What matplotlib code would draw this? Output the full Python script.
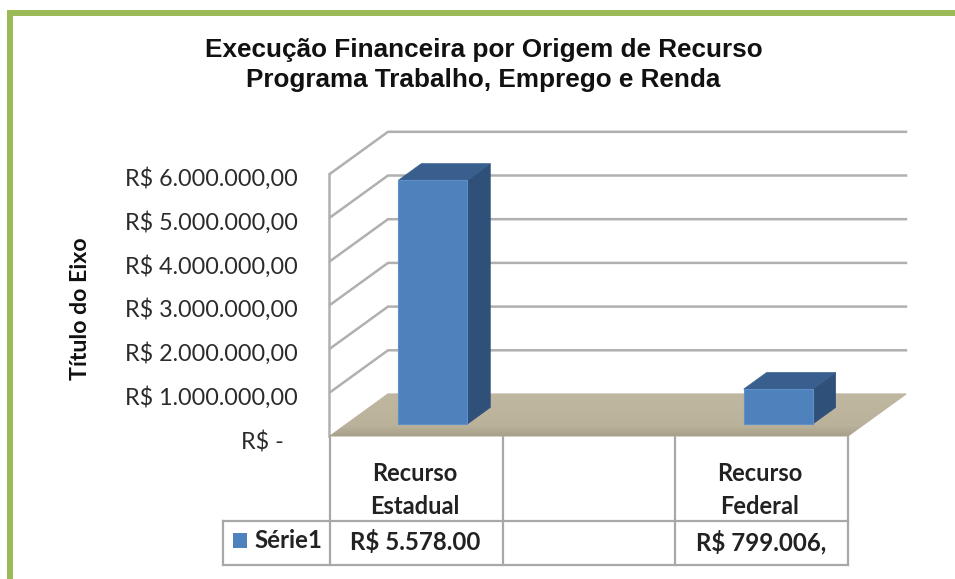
import matplotlib
matplotlib.use("Agg")
import matplotlib.pyplot as plt
from matplotlib.colors import LinearSegmentedColormap
from matplotlib.patches import Polygon, Rectangle
import numpy as np

# Excel style 3D column chart with data table, drawn on an axes in pixel units

title = "Execução Financeira por Origem de Recurso\nPrograma Trabalho, Emprego e Renda"
y_title = "Título do Eixo"
categories = ["Recurso\nEstadual", "", "Recurso\nFederal"]
values = [5578000, 0, 799006]
table_values = ["R$ 5.578.00", "", "R$ 799.006,"]
series_name = "Série1"
y_ticks = [0, 1000000, 2000000, 3000000, 4000000, 5000000, 6000000]
y_tick_labels = ["R$ -", "R$ 1.000.000,00", "R$ 2.000.000,00", "R$ 3.000.000,00",
                 "R$ 4.000.000,00", "R$ 5.000.000,00", "R$ 6.000.000,00"]

GREEN = "#9BBB59"
GRID = "#B0B0B0"
TABLE = "#A8A8A8"
BAR_FRONT = "#4F81BD"
BAR_TOP = "#395F8F"
BAR_SIDE = "#2F5078"
FONT = "Lato"

# oblique projection of the plot box
X0, X1 = 330, 848
Y0 = 436
PX_PER_UNIT = 43.7 / 1e6
DEPTH_X, DEPTH_Y = 58, 42


def proj(x, v, d=0.0):
    return x + DEPTH_X * d, Y0 - v * PX_PER_UNIT - DEPTH_Y * d


fig = plt.figure(figsize=(9.55, 5.79), dpi=100)
ax = fig.add_axes([0, 0, 1, 1])
ax.axis("off")

# green frame
ax.add_patch(Rectangle((7, 10), 948, 5.5, color=GREEN, lw=0))
ax.add_patch(Rectangle((7, 10), 5.5, 569, color=GREEN, lw=0))

# walls
for v in y_ticks[1:]:
    ax.plot(*zip(proj(X0, v), proj(X0, v, 1), proj(X1, v, 1)), color=GRID, lw=1.8,
            solid_joinstyle="miter", zorder=1)
ax.plot(*zip(proj(X0 - 1, 0), proj(X0 - 1, y_ticks[-1])), color=GRID, lw=1.8, zorder=1)

# floor with a slight gradient towards the front edge
floor = [proj(X0, 0), proj(X1, 0), proj(X1, 0, 1), proj(X0, 0, 1)]
floor_cmap = LinearSegmentedColormap.from_list(
    "floor", [(0, "#C0B7A1"), (0.75, "#BBB29B"), (1, "#A9A089")])
floor_patch = Polygon(floor, closed=True, fc="none", ec="#B5AE9A", lw=0.8, zorder=2)
ax.add_patch(floor_patch)
img = ax.imshow(np.linspace(0, 1, 64).reshape(-1, 1), cmap=floor_cmap, aspect="auto",
                extent=(X0, X1 + DEPTH_X, Y0, Y0 - DEPTH_Y), zorder=2)
img.set_clip_path(floor_patch)
ax.set_xlim(0, 955)
ax.set_ylim(579, 0)

# bars
cell_w = (X1 - X0) / len(categories)
bar_w = 69
d0, d1 = 0.286, 0.68
for i, v in enumerate(values):
    if v == 0:
        continue
    x0 = X0 + cell_w * (i + 0.5) - bar_w / 2
    x1 = x0 + bar_w
    top = [proj(x0, v, d0), proj(x1, v, d0), proj(x1, v, d1), proj(x0, v, d1)]
    side = [proj(x1, 0, d0), proj(x1, v, d0), proj(x1, v, d1), proj(x1, 0, d1)]
    front = [proj(x0, 0, d0), proj(x1, 0, d0), proj(x1, v, d0), proj(x0, v, d0)]
    ax.add_patch(Polygon(side, closed=True, fc=BAR_SIDE, ec=BAR_SIDE, lw=0.5, zorder=3))
    ax.add_patch(Polygon(top, closed=True, fc=BAR_TOP, ec=BAR_TOP, lw=0.5, zorder=3))
    ax.add_patch(Polygon(front, closed=True, fc=BAR_FRONT, ec="#5E8FC8", lw=0.8, zorder=4))

# value axis labels
for v, lab in zip(y_ticks, y_tick_labels):
    _, y = proj(X0, v)
    if v == 0:
        ax.text(284, y + 7, lab, ha="right", va="center", fontsize=16.8,
                family=FONT, color="#2B2B2B")
    else:
        ax.text(298, y + 5, lab, ha="right", va="center", fontsize=16.8,
                family=FONT, color="#2B2B2B")

ax.text(80, 309, y_title, rotation=90, ha="center", va="center", fontsize=16.7,
        family=FONT, fontweight="bold", color="#111111")
ax.text(483.5, 65, title, ha="center", va="center", fontsize=18.8, family="Liberation Sans",
        fontweight="bold", color="#111111", linespacing=1.35)

# data table
ROW_TOP, ROW_BOTTOM = 521, 565
LEFT = 223
for i in range(len(categories) + 1):
    x = X0 + cell_w * i
    ax.plot([x, x], [Y0, ROW_BOTTOM], color=TABLE, lw=1.6, zorder=1)
ax.plot([LEFT, X1], [ROW_TOP, ROW_TOP], color=TABLE, lw=1.6, zorder=1)
ax.plot([LEFT, X1], [ROW_BOTTOM, ROW_BOTTOM], color=TABLE, lw=1.6, zorder=1)
ax.plot([LEFT, LEFT], [ROW_TOP, ROW_BOTTOM], color=TABLE, lw=1.6, zorder=1)

for i, (cat, tv) in enumerate(zip(categories, table_values)):
    xc = X0 + cell_w * (i + 0.5)
    ax.text(xc - 2, 490, cat, ha="center", va="center", fontsize=17, family=FONT,
            fontweight="bold", color="#222222", linespacing=1.55)
    ax.text(xc - 1, 542, tv, ha="center", va="center", fontsize=17.3, family=FONT,
            fontweight="bold", color="#222222")

ax.add_patch(Rectangle((232.5, 533), 14, 15, color=BAR_FRONT, lw=0))
ax.text(254, 541, series_name, ha="left", va="center", fontsize=17.4, family=FONT,
        fontweight="bold", color="#222222")

fig.savefig("out.png", dpi=100)
